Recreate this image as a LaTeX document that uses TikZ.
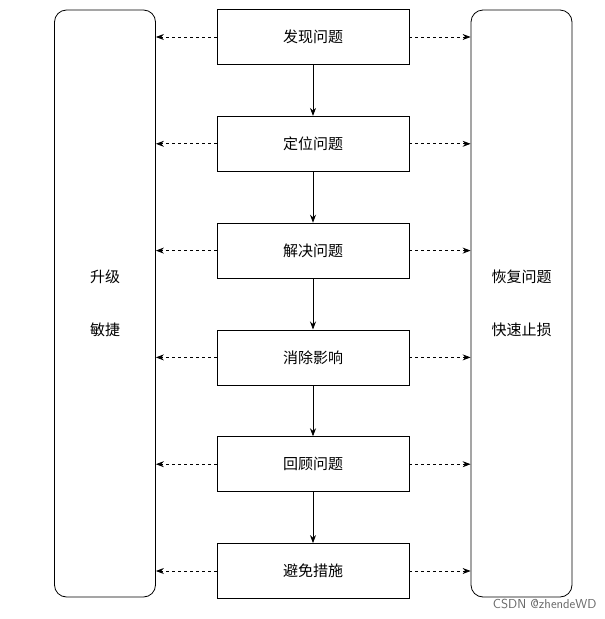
\documentclass[tikz,border=0pt]{standalone}
\usepackage{fontspec}
\newfontfamily\cjk{Noto Sans CJK SC}
\usetikzlibrary{positioning,arrows.meta}
\tikzset{
  stepbox/.style={draw, thick, minimum width=192pt, minimum height=55pt, font=\cjk\fontsize{15}{18}\selectfont},
  sidebox/.style={draw, thick, rounded corners=12pt, minimum width=101pt, minimum height=587pt},
  side/.style={font=\cjk\fontsize{15}{18}\selectfont},
  flow/.style={-{Stealth[length=8pt,width=6pt]}, thick},
  link/.style={-{Stealth[length=8pt,width=6pt]}, thick, dashed}
}
\begin{document}
\begin{tikzpicture}[x=1pt, y=-1pt]
    \useasboundingbox (0,0) rectangle (605,619);
    % Side boxes
    \node[sidebox] (upg) at (105,303.5) {};
    \node[sidebox] (rec) at (521.5,303.5) {};
    \node[side] at (105,277) {升级};
    \node[side] at (105,330) {敏捷};
    \node[side] at (521.5,277) {恢复问题};
    \node[side] at (521.5,330) {快速止损};
    
    % Steps
    \node[stepbox] (s1) at (313,37) {发现问题};
    \node[stepbox, below=51pt of s1] (s2) {定位问题};
    \node[stepbox, below=51pt of s2] (s3) {解决问题};
    \node[stepbox, below=51pt of s3] (s4) {消除影响};
    \node[stepbox, below=51pt of s4] (s5) {回顾问题};
    \node[stepbox, below=51pt of s5] (s6) {避免措施};
    
    % Flow and links
    \foreach \a/\b in {s1/s2,s2/s3,s3/s4,s4/s5,s5/s6}
        \draw[flow] (\a) -- (\b);
    \foreach \s in {s1,s2,s3,s4,s5,s6} {
        \draw[link] (\s.west) -- (\s.west -| upg.east);
        \draw[link] (\s.east) -- (\s.east -| rec.west);
    }
    \node[font=\fontfamily{lmss}\fontsize{13}{15}\selectfont, text=black!60, anchor=south east] (mark) at (600,612) {CSDN @zhendeWD};
\end{tikzpicture}
\end{document}
